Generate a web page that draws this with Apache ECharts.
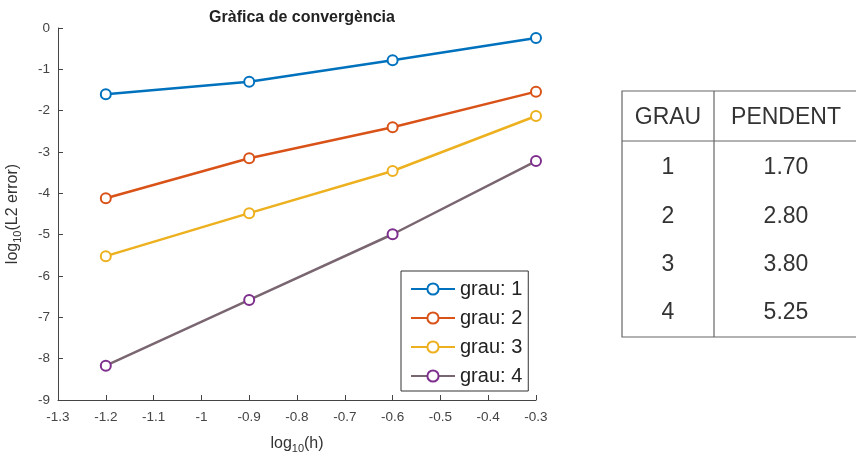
<!DOCTYPE html>
<html><head><meta charset="utf-8">
<script src="https://cdn.jsdelivr.net/npm/echarts@6/dist/echarts.min.js"></script>
<style>html,body{margin:0;padding:0;background:#fff}#c{width:856px;height:458px}</style>
</head><body><div id="c"></div>
<script>
var xValues = [-1.2, -0.9, -0.6, -0.3];
var grau1 = [-1.60, -1.30, -0.78, -0.24];
var grau2 = [-4.12, -3.15, -2.40, -1.54];
var grau3 = [-5.52, -4.48, -3.46, -2.13];
var grau4 = [-8.17, -6.58, -4.99, -3.22];
var seriesNames = ['grau: 1', 'grau: 2', 'grau: 3', 'grau: 4'];
var tableHeader = ['GRAU', 'PENDENT'];
var tableGrau = ['1', '2', '3', '4'];
var tablePendent = ['1.70', '2.80', '3.80', '5.25'];

var FONT = '"Liberation Sans", Arial, Helvetica, sans-serif';
var lineColors = ['#0072BD', '#D95319', '#EDB120', '#7a6670'];
var markerColors = ['#0072BD', '#D95319', '#EDB120', '#7E2F8E'];
var allY = [grau1, grau2, grau3, grau4];

var series = allY.map(function (ys, i) {
  return {
    name: seriesNames[i], type: 'line',
    data: xValues.map(function (x, j) { return [x, ys[j]]; }),
    symbol: 'emptyCircle', symbolSize: 10,
    lineStyle: { width: 2.5, color: lineColors[i] },
    itemStyle: { color: markerColors[i], borderWidth: 2.4 },
    emphasis: { disabled: true }, animation: false
  };
});

// table graphics
var g = [];
var tL = 622, tR = 858, tT = 91, tH = 141, tB = 337, tDiv = 714;
var rowY = [168, 217, 265, 313];
var lineC = '#666';
g.push({ type: 'rect', shape: { x: tL, y: tT, width: tR - tL, height: tB - tT }, style: { fill: 'none', stroke: lineC, lineWidth: 1.2 } });
g.push({ type: 'line', shape: { x1: tL, y1: tH, x2: tR, y2: tH }, style: { stroke: lineC, lineWidth: 1.2 } });
g.push({ type: 'line', shape: { x1: tDiv, y1: tT, x2: tDiv, y2: tB }, style: { stroke: lineC, lineWidth: 1.2 } });
var colX = [668, 786];
var tFont = '23px ' + FONT;
tableHeader.forEach(function (h, i) {
  g.push({ type: 'text', x: colX[i], y: 118, style: { text: h, font: tFont, fill: '#333', align: 'center', verticalAlign: 'middle' } });
});
tableGrau.forEach(function (v, i) {
  g.push({ type: 'text', x: colX[0], y: rowY[i], style: { text: v, font: tFont, fill: '#333', align: 'center', verticalAlign: 'middle' } });
  g.push({ type: 'text', x: colX[1], y: rowY[i], style: { text: tablePendent[i], font: tFont, fill: '#333', align: 'center', verticalAlign: 'middle' } });
});

var nameRich = {
  a: { fontSize: 16, color: '#333', fontFamily: FONT },
  s: { fontSize: 11, color: '#333', verticalAlign: 'bottom', padding: [10, 0, 0, 0], fontFamily: FONT }
};

var chart = echarts.init(document.getElementById('c'));
chart.setOption({
  animation: false,
  backgroundColor: '#fff',
  textStyle: { fontFamily: FONT },
  title: {
    text: 'Gràfica de convergència', left: 297, top: 5, textAlign: 'center',
    textStyle: { fontSize: 16, fontWeight: 'bold', color: '#222', fontFamily: FONT }
  },
  grid: { left: 58, right: 320, top: 28, bottom: 58, containLabel: false, outerBoundsMode: 'none' },
  legend: {
    left: 401, top: 271, width: 127, orient: 'vertical',
    padding: [8, 6, 5, 9],
    backgroundColor: '#fff', borderColor: '#333', borderWidth: 1,
    itemWidth: 44, itemHeight: 14, itemGap: 9,
    textStyle: { fontSize: 20, color: '#222', fontFamily: FONT, lineHeight: 20 },
    data: seriesNames
  },
  xAxis: {
    type: 'value', min: -1.3, max: -0.3, interval: 0.1,
    axisLine: { onZero: false, lineStyle: { color: '#444', width: 1 } },
    axisTick: { inside: true, length: 5, lineStyle: { color: '#444' } },
    axisLabel: { color: '#444', fontSize: 13.5, margin: 10, fontFamily: FONT },
    splitLine: { show: false },
    name: '{a|log}{s|10}{a|(h)}', nameLocation: 'middle', nameGap: 33,
    nameTextStyle: { rich: nameRich }
  },
  yAxis: {
    type: 'value', min: -9, max: 0, interval: 1,
    axisLine: { show: true, onZero: false, lineStyle: { color: '#444', width: 1 } },
    axisTick: { show: true, inside: true, length: 5, lineStyle: { color: '#444' } },
    axisLabel: { color: '#444', fontSize: 13.5, margin: 8, fontFamily: FONT },
    splitLine: { show: false },
    name: '{a|log}{s|10}{a|(L2 error)}', nameLocation: 'middle', nameGap: 35,
    nameTextStyle: { rich: nameRich }
  },
  series: series,
  graphic: g
});
</script></body></html>
